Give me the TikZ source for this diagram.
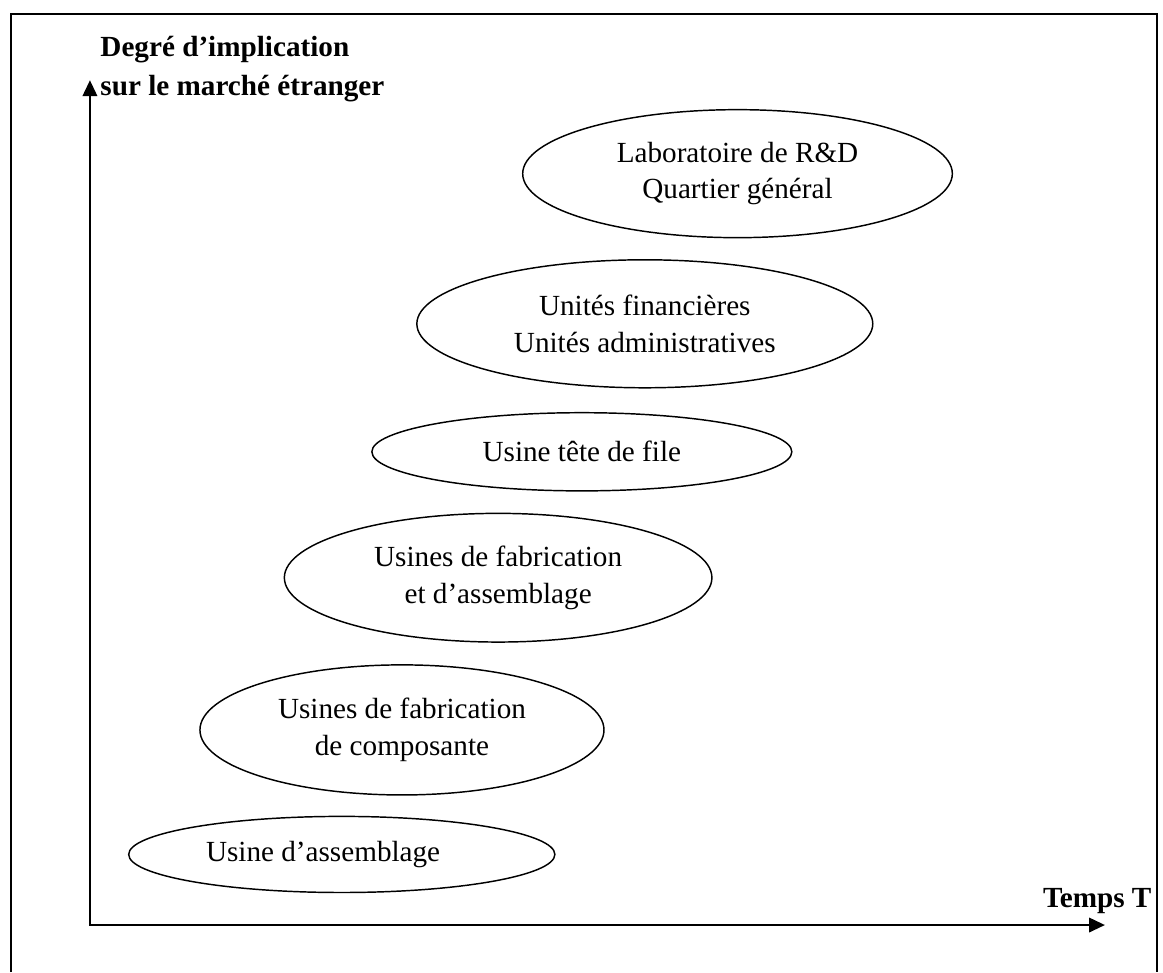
\documentclass[tikz,border=0pt]{standalone}
\usepackage{fontspec}
\setmainfont{Liberation Serif}
\usepackage{tikz}
\usetikzlibrary{shapes.geometric,arrows.meta}

\begin{document}
\begin{tikzpicture}[
    stage/.style={draw, ellipse, line width=0.6pt, inner sep=0pt, align=center,
        font=\fontsize{12}{15}\selectfont},
    axis/.style={line width=0.7pt, {Triangle[length=6.5pt,width=6pt]}-{Triangle[length=6.5pt,width=6pt]}}
]
    \useasboundingbox (0,0) rectangle (16.81,-14.05);

    % Frame (open at the bottom)
    \draw[line width=0.8pt] (0.16,-14.05) -- (0.16,-0.20) -- (16.72,-0.20) -- (16.72,-14.05);

    % Axes
    \coordinate (O) at (1.30,-13.37);
    \coordinate (ytip) at (1.30,-1.16);
    \coordinate (xtip) at (15.97,-13.37);
    \draw[axis] (ytip) -- (O) -- (xtip);

    \node[anchor=west, inner sep=0pt, align=left, font=\fontsize{12}{16}\selectfont\bfseries] (ylabel)
        at (1.445,-1.0) {Degré d’implication\\sur le marché étranger};
    \node[anchor=base east, inner sep=0pt, font=\fontsize{12}{15}\selectfont\bfseries] (xlabel)
        at (16.65,-13.11) {Temps T};

    % Stages, bottom to top
    \node[stage, minimum width=6.16cm, minimum height=1.10cm] (asm) at (4.94,-12.35) {};
    \node[inner sep=0pt, font=\fontsize{12}{15}\selectfont] (asmtext) at ([xshift=-0.27cm]asm.center) {Usine d’assemblage};
    \node[stage, minimum width=5.84cm, minimum height=1.88cm] (comp) at (5.81,-10.55)
        {Usines de fabrication\\de composante};
    \node[stage, minimum width=6.18cm, minimum height=1.86cm] (fabasm) at (7.20,-8.35)
        {Usines de fabrication\\et d’assemblage};
    \node[stage, minimum width=6.07cm, minimum height=1.13cm] (lead) at (8.41,-6.53)
        {Usine tête de file};
    \node[stage, minimum width=6.59cm, minimum height=1.85cm] (units) at (9.32,-4.68)
        {Unités financières\\Unités administratives};
    \node[stage, minimum width=6.21cm, minimum height=1.85cm] (lab) at (10.66,-2.51)
        {Laboratoire de R\&D\\Quartier général};
\end{tikzpicture}
\end{document}
